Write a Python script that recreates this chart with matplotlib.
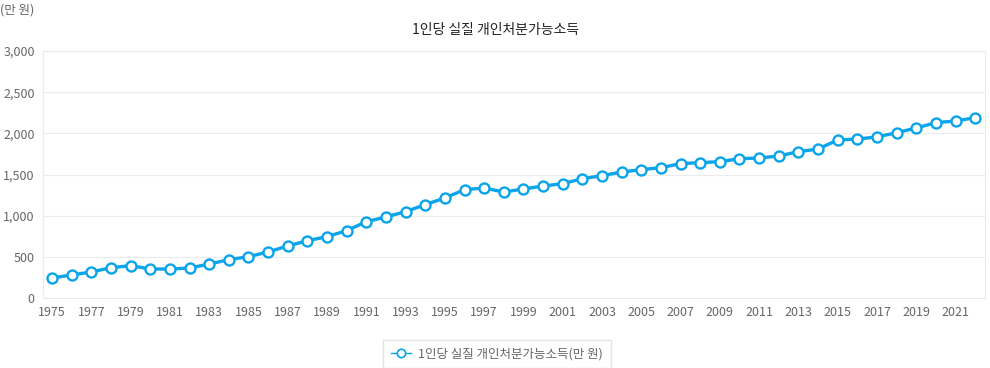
import numpy as np
import matplotlib.pyplot as plt
from matplotlib.ticker import FuncFormatter

plt.rcParams['font.family'] = ['Noto Sans CJK KR', 'DejaVu Sans']

years = list(range(1975, 2023))
income = [243, 280, 316, 368, 393, 352, 352, 364, 413, 465,
          502, 559, 632, 696, 745, 818, 927, 984, 1049, 1134,
          1215, 1316, 1336, 1287, 1324, 1360, 1389, 1449, 1486, 1530,
          1559, 1583, 1632, 1644, 1656, 1692, 1700, 1725, 1777, 1810,
          1919, 1931, 1956, 2008, 2065, 2130, 2150, 2190]
tick_years = list(range(1975, 2023, 2))
title = '1인당 실질 개인처분가능소득'
series_name = '1인당 실질 개인처분가능소득(만 원)'
unit = '(만 원)'

blue = '#0aa4ea'
grid = '#ebebeb'
txt = '#666666'

fig = plt.figure(figsize=(9.9, 3.68), dpi=100)
ax = fig.add_axes([43/990, 1-298/368, 942/990, 247/368])

ax.plot(years, income, color=blue, lw=2.4, marker='o', ms=7.2,
        mfc='white', mec=blue, mew=1.7, label=series_name, zorder=3)

ax.set_xlim(1974.54, 2022.5)
ax.set_ylim(0, 3000)
ax.set_yticks(np.arange(0, 3001, 500))
ax.yaxis.set_major_formatter(FuncFormatter(lambda v, p: f'{int(v):,}'))
ax.set_xticks(tick_years)
ax.grid(axis='y', color=grid, lw=0.8)
ax.set_axisbelow(True)
ax.tick_params(length=0, labelsize=9, labelcolor=txt, pad=6)
for s in ax.spines.values():
    s.set_color(grid)
    s.set_linewidth(0.8)
ax.spines['top'].set_visible(False)

fig.text(0.5, 1-30/368, title, ha='center', va='center', fontsize=10, color='#222222')
fig.text(0.0, 1-10/368, unit, ha='left', va='center', fontsize=9, color=txt)

leg = ax.legend(loc='upper center', bbox_to_anchor=(0.482, -0.145), frameon=True,
                fancybox=False, fontsize=9, labelcolor=txt, handlelength=1.6,
                handletextpad=0.6, borderpad=0.6, edgecolor='#dddddd')
leg.get_lines()[0].set_linewidth(1)
leg.get_lines()[0].set_markersize(6)
leg.get_lines()[0].set_markeredgewidth(1.2)

fig.savefig('out.png', dpi=100)
